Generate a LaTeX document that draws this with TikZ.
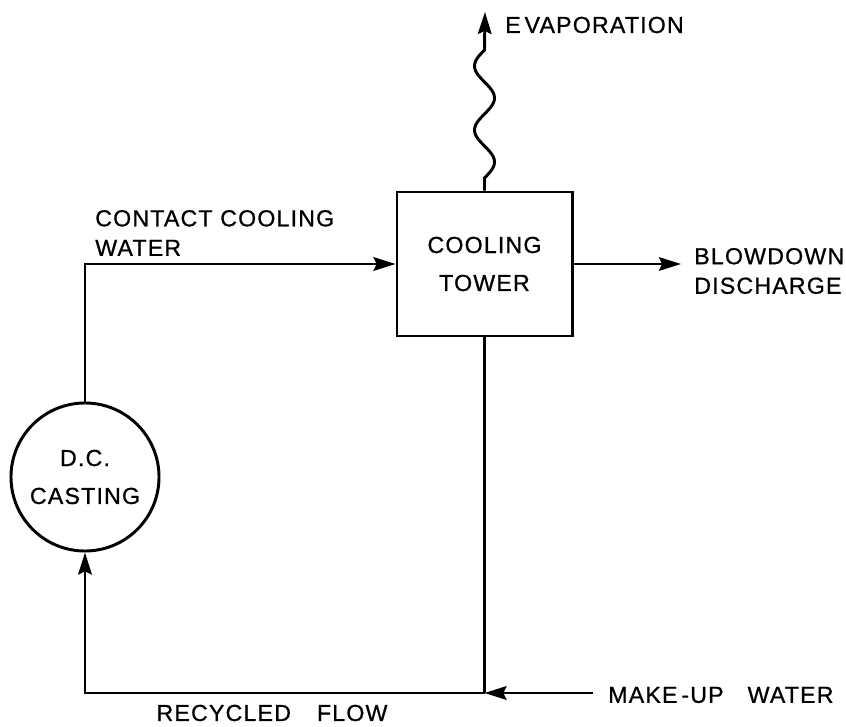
\documentclass[tikz,border=0pt]{standalone}
\usepackage{fontspec}
\setmainfont{Liberation Sans}[LetterSpace=5, FakeBold=0.8]
\usetikzlibrary{arrows.meta,positioning}

\begin{document}
\begin{tikzpicture}[
  x=0.025cm, y=-0.025cm,
  flow/.style={line width=2.1pt},
  tip/.style={-{Stealth[length=0.55cm, width=0.34cm, inset=0.08cm]}},
  unit/.style={draw, line width=2.1pt, align=center, font=\fontsize{16.5}{27}\selectfont},
  lbl/.style={align=left, font=\fontsize{16.5}{21}\selectfont, inner sep=0pt},
]
\useasboundingbox (0,0) rectangle (846,727);
% Process units
\node[unit, minimum width=4.375cm, minimum height=3.6cm] (tower) at (484.5,264) {COOLING\\TOWER};
\node[unit, circle, minimum size=3.7cm, inner sep=0pt] (casting) at (85,477) {D.C.\\CASTING};
% Corner and end points
\coordinate (bend) at (casting.north |- tower.west);
\coordinate (jn) at (tower.south |- 0,693);
\coordinate (corner) at (casting.south |- jn);
\coordinate (mu) at (593,693);
\coordinate (bd) at (681,264);
\coordinate (ev) at (485,12);
% Flows
\draw[flow, tip] (casting.north) -- (bend) -- (tower.west);
\draw[flow, tip] (tower.east) -- (bd);
\draw[flow, tip] (tower.north) -- (484.5,178)
  -- plot[domain=178:50, samples=80, smooth] ({484.5+10*sin(5.625*(178-\x))}, \x) -- (ev);
\draw[flow] (tower.south) -- (jn);
\draw[flow, tip] (mu) -- (jn);
\draw[flow, tip] (jn) -- (corner) -- (casting.south);
% Labels
\node[lbl, anchor=west] (cw) at (95,233) {CONTACT COOLING\\WATER};
\node[lbl, anchor=west] (bdl) at (694,271) {BLOWDOWN\\DISCHARGE};
\node[lbl, anchor=west] (evl) at (505,25) {E\,VAPORATION};
\node[lbl, anchor=west] (mul) at (608,695) {MAKE\,-UP\hspace{0.6cm}WATER};
\node[lbl] (rf) at (272,713) {RECYCLED\hspace{0.65cm}FLOW};
\end{tikzpicture}
\end{document}
